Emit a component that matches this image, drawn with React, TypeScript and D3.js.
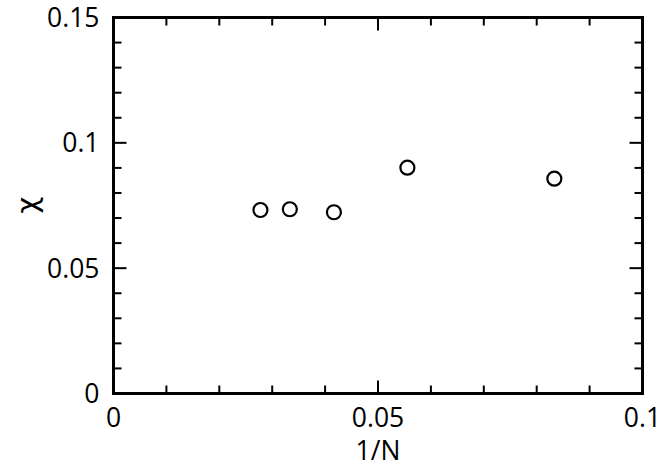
import React from 'react';
import * as d3 from 'd3';

const width = 664;
const height = 470;
const margin = { left: 113.5, right: 21.5, top: 17.5, bottom: 76.5 };

// 1/N for N = 36, 30, 24, 18, 12
const invN = [1 / 36, 1 / 30, 1 / 24, 1 / 18, 1 / 12];
const chi = [0.0732, 0.0735, 0.0723, 0.0901, 0.0857];

const xMajor = [0, 0.05, 0.1];
const yMajor = [0, 0.05, 0.1, 0.15];

const font = '"Open Sans", sans-serif';

export default function App() {
  const x = d3.scaleLinear().domain([0, 0.1]).range([margin.left, width - margin.right]);
  const y = d3.scaleLinear().domain([0, 0.15]).range([height - margin.bottom, margin.top]);

  const xMinor = d3.range(0, 11).map(i => i * 0.01);
  const yMinor = d3.range(0, 16).map(i => i * 0.01);
  const isMajor = (v: number, step: number) => Math.abs(v / step - Math.round(v / step)) < 1e-6;

  const [x0, x1] = x.range();
  const [y0, y1] = y.range();
  const fmt = (d: number) => `${+d.toFixed(2)}`;

  return (
    <svg width={width} height={height} style={{ position: 'absolute', left: 0, top: 0, background: '#fff' }}>
      {/* ticks on all four sides, pointing inward */}
      <g stroke="#000" strokeWidth={2}>
        {xMinor.map((v, i) => {
          const len = isMajor(v, 0.05) ? 13 : 8;
          return (
            <g key={'x' + i}>
              <line x1={x(v)} x2={x(v)} y1={y0} y2={y0 - len} />
              <line x1={x(v)} x2={x(v)} y1={y1} y2={y1 + len} />
            </g>
          );
        })}
        {yMinor.map((v, i) => {
          const len = isMajor(v, 0.05) ? 13 : 8;
          return (
            <g key={'y' + i}>
              <line x1={x0} x2={x0 + len} y1={y(v)} y2={y(v)} />
              <line x1={x1} x2={x1 - len} y1={y(v)} y2={y(v)} />
            </g>
          );
        })}
      </g>

      {/* frame */}
      <rect x={x0} y={y1} width={x1 - x0} height={y0 - y1} fill="none" stroke="#000" strokeWidth={3} />

      {/* tick labels */}
      <g fontFamily={font} fontSize={26.5} fill="#000">
        {xMajor.map(v => (
          <text key={'xl' + v} x={x(v)} y={427} textAnchor="middle">{fmt(v)}</text>
        ))}
        {yMajor.map(v => (
          <text key={'yl' + v} x={x0 - 14} y={y(v)} dy="0.36em" textAnchor="end">{fmt(v)}</text>
        ))}
      </g>

      {/* axis titles */}
      <text x={(x0 + x1) / 2} y={460} textAnchor="middle" fontFamily={font} fontSize={26.5}>1/N</text>
      <text transform="translate(37,205) rotate(-90)" textAnchor="middle" fontFamily='"DejaVu Sans", sans-serif' fontSize={29}>χ</text>

      {/* data */}
      {invN.map((v, i) => (
        <circle key={'p' + i} cx={x(v)} cy={y(chi[i])} r={7} fill="none" stroke="#000" strokeWidth={2.2} />
      ))}
    </svg>
  );
}
